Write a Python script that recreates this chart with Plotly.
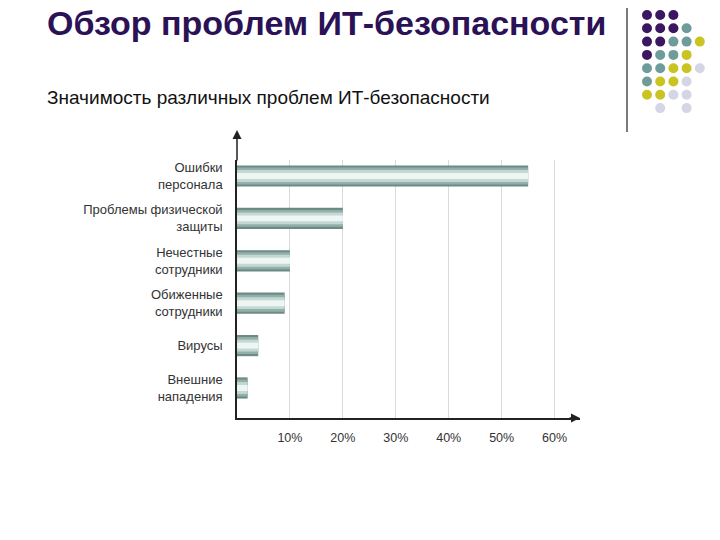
import plotly.graph_objects as go

categories = ["Ошибки<br>персонала", "Проблемы физической<br>защиты", "Нечестные<br>сотрудники",
              "Обиженные<br>сотрудники", "Вирусы", "Внешние<br>нападения"]
values = [55, 20, 10, 9, 4, 2]
tick_vals = [10, 20, 30, 40, 50, 60]
tick_text = ["10%", "20%", "30%", "40%", "50%", "60%"]
title_text = "Обзор проблем ИТ-безопасности"
subtitle_text = "Значимость различных проблем ИТ-безопасности"

# decorative dot grid (row, col, color)
dot_rows = [
    ["p", "p", "p", "", ""],
    ["p", "p", "p", "t", ""],
    ["p", "p", "t", "t", "y"],
    ["p", "t", "t", "y", ""],
    ["t", "t", "y", "y", "g"],
    ["t", "y", "y", "g", ""],
    ["y", "y", "g", "g", ""],
    ["", "g", "", "g", ""],
]
dot_colors = {"p": "#3b1763", "t": "#6e9c9a", "y": "#c9c422", "g": "#d4d6e6"}

W_FIG, H_FIG = 720, 540
L, T = 237, 160
R = W_FIG - 580
B = H_FIG - 418
PW = W_FIG - L - R
PH = H_FIG - T - B


def px(x):
    return (x - L) / PW


def py(y):
    return (H_FIG - B - y) / PH


fig = go.Figure()

# cylinder-like bars via layered overlays
layers = [(0.50, "#6b8b84"), (0.40, "#93afa9"), (0.28, "#c3d8d4"), (0.14, "#eef6f4")]
for w, c in layers:
    fig.add_trace(go.Bar(
        x=values, y=categories, orientation="h", width=w,
        marker=dict(color=c, line=dict(width=0)), hoverinfo="skip", showlegend=False,
    ))

fig.update_layout(
    width=W_FIG, height=H_FIG,
    margin=dict(l=L, r=R, t=T, b=B, autoexpand=False),
    paper_bgcolor="white", plot_bgcolor="white",
    barmode="overlay",
    font=dict(family="Liberation Sans, Arial, sans-serif", color="#333333"),
    xaxis=dict(range=[0, 64.8], tickvals=tick_vals, ticktext=tick_text,
               showgrid=True, gridcolor="#d9d9d9", gridwidth=1,
               showline=True, linecolor="#222222", linewidth=1.5, automargin=False,
               ticks="", ticklabelstandoff=7,
               tickfont=dict(size=12.5, color="#333333"), zeroline=False),
    yaxis=dict(range=[5.708, -0.377], showgrid=False, automargin=False,
               showline=True, linecolor="#222222", linewidth=1.5,
               ticks="", ticklabelstandoff=10,
               tickfont=dict(size=13, color="#333333"), zeroline=False),
    showlegend=False,
)

# axis arrows
fig.add_annotation(x=0, y=py(130), xref="x", yref="paper", ax=0, ay=32,
                   showarrow=True, arrowhead=2, arrowsize=1.2, arrowwidth=1.5, arrowcolor="#222222", text="")
fig.add_annotation(x=1.0, y=0, xref="paper", yref="paper", ax=-12, ay=0,
                   showarrow=True, arrowhead=2, arrowsize=1.2, arrowwidth=1.5, arrowcolor="#222222", text="")

# titles
fig.add_annotation(text="<b>" + title_text + "</b>", x=px(45), y=py(23), xref="paper", yref="paper",
                   xanchor="left", yanchor="middle", showarrow=False,
                   font=dict(size=34, color="#2b1156", family="Liberation Sans, Arial, sans-serif"))
fig.add_annotation(text=subtitle_text, x=px(45), y=py(97), xref="paper", yref="paper",
                   xanchor="left", yanchor="middle", showarrow=False,
                   font=dict(size=19, color="#111111", family="Liberation Sans, Arial, sans-serif"))

# vertical separator line
fig.add_shape(type="line", xref="paper", yref="paper", x0=px(627), x1=px(627),
              y0=py(8), y1=py(132), line=dict(color="#222222", width=1.2))

# dots
for r, row in enumerate(dot_rows):
    for c, k in enumerate(row):
        if k:
            cx = 647 + 13.2 * c
            cy = 15 + 13.3 * r
            fig.add_shape(type="circle", xref="paper", yref="paper",
                          x0=px(cx - 5), x1=px(cx + 5), y0=py(cy + 5), y1=py(cy - 5),
                          fillcolor=dot_colors[k], line=dict(width=0))

fig.write_html("out.html", config={"displayModeBar": False},
               post_script="document.body.style.margin='0';document.body.style.padding='0';")
